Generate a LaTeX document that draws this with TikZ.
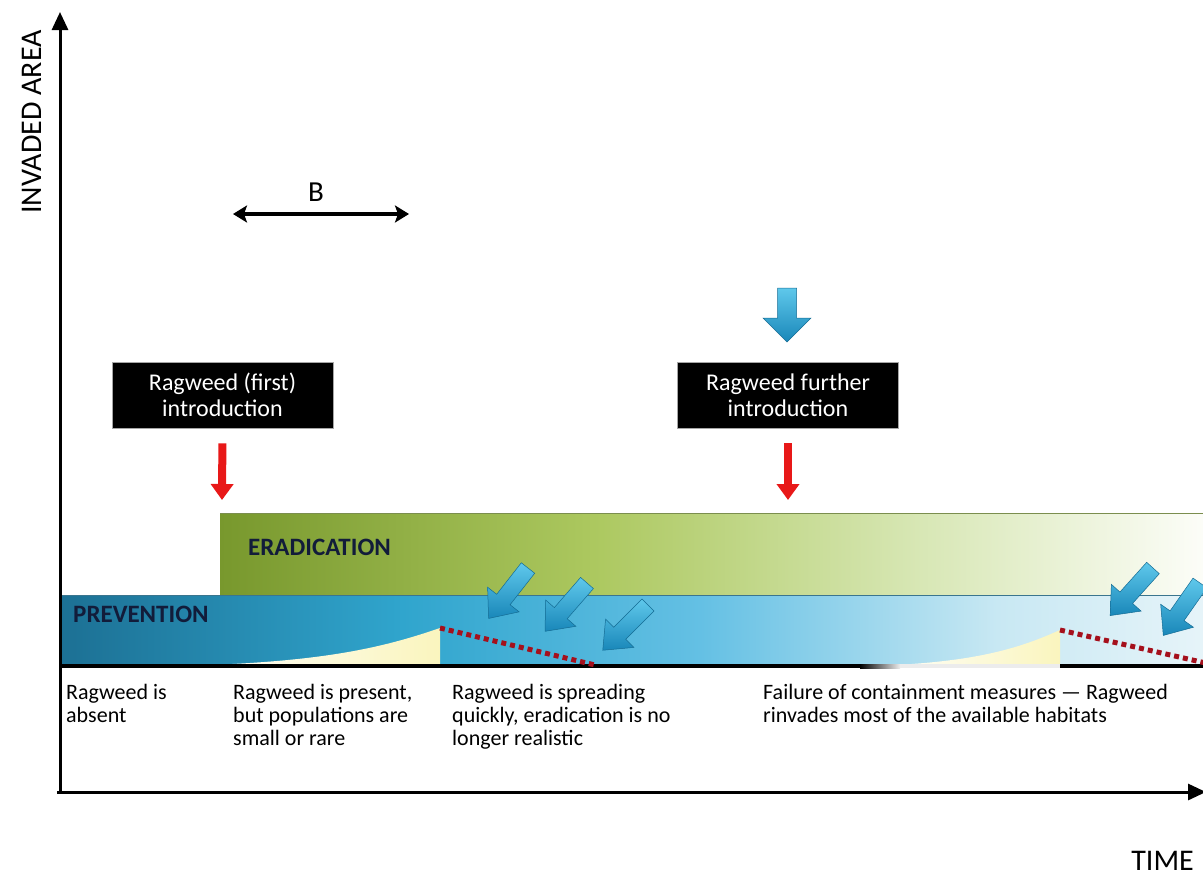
\documentclass[tikz,border=0pt]{standalone}
\usepackage{fontspec}
\setmainfont{Carlito}
\usetikzlibrary{arrows.meta,calc}
\definecolor{erA}{RGB}{120,152,45}
\definecolor{erB}{RGB}{172,200,95}
\definecolor{erC}{RGB}{214,230,178}
\definecolor{erD}{RGB}{252,253,248}
\definecolor{prA}{RGB}{28,112,148}
\definecolor{prB}{RGB}{48,165,205}
\definecolor{prC}{RGB}{100,192,228}
\definecolor{prD}{RGB}{200,232,243}
\definecolor{prE}{RGB}{230,244,249}
\definecolor{bluelt}{RGB}{95,200,235}
\definecolor{bluedk}{RGB}{25,135,185}
\definecolor{redarr}{RGB}{232,24,24}
\definecolor{dotred}{RGB}{165,16,28}
\definecolor{navy}{RGB}{18,28,58}
\definecolor{paleyel}{RGB}{250,245,190}
\pgfdeclarehorizontalshading{eradshade}{100bp}{color(0bp)=(erA); color(25bp)=(erA); color(44bp)=(erB); color(60bp)=(erC); color(75bp)=(erD); color(100bp)=(erD)}
\pgfdeclarehorizontalshading{prevshade}{100bp}{color(0bp)=(prA); color(25bp)=(prA); color(40bp)=(prB); color(53bp)=(prC); color(66bp)=(prD); color(75bp)=(prE); color(100bp)=(prE)}
\tikzset{
  blackbox/.style={fill=black, draw=gray!70, line width=0.8pt, text=white, minimum width=221pt, minimum height=66pt, align=center, inner sep=0pt, font=\fontsize{24}{26}\selectfont},
  redarrow/.style={draw=redarr, line width=8pt, -{Triangle[length=16pt,width=22pt]}},
  lbl/.style={anchor=north west, inner sep=0pt, align=left, font=\fontsize{22}{23}\selectfont},
  bandlbl/.style={anchor=west, inner sep=0pt, text=navy, font=\fontsize{25}{26}\selectfont\bfseries},
  axislbl/.style={inner sep=0pt, font=\fontsize{30}{32}\selectfont},
  dotline/.style={draw=dotred, line width=5pt, dash pattern=on 5pt off 4pt},
  barrow/.pic={\shade[top color=bluelt, bottom color=bluedk, draw=bluedk!80!black, line width=0.5pt] (0,-9.5) -- (30,-9.5) -- (30,-24) -- (54,0) -- (30,24) -- (30,9.5) -- (0,9.5) -- cycle;},
  darrow/.pic={\shade[top color=bluelt, bottom color=bluedk, draw=bluedk!80!black, line width=0.5pt] (0,-8.5) -- (40,-8.5) -- (40,-20) -- (64,0) -- (40,20) -- (40,8.5) -- (0,8.5) -- cycle;}
}
\begin{document}
\begin{tikzpicture}[x=1pt,y=-1pt]
\clip (0,0) rectangle (1203,881);
\fill[white] (0,0) rectangle (1203,881);
% bands
\shade[shading=eradshade] (220,513) rectangle (1203,595);
\draw[color=erA!60!gray, line width=0.8pt] (220,513) -- (1203,513);
\shade[shading=prevshade] (60,595) rectangle (1203,666);
\draw[color=prA!70!gray, line width=0.8pt] (60,595) -- (1203,595);
% curve regions
\shade[left color=white, right color=paleyel] (175,666) .. controls (320,663) and (382,648) .. (440,628) -- (440,666) -- cycle;
\shade[left color=white, right color=paleyel] (870,666) .. controls (975,663) and (1020,648) .. (1060,630) -- (1060,666) -- cycle;
% bottom line
\fill[black] (60,664) rectangle (860,668);
\shade[left color=black, right color=gray!15] (860,664) rectangle (900,668);
\fill[gray!15] (900,664) rectangle (1060,668);
\fill[black] (1060,664) rectangle (1203,668);
% dotted lines
\coordinate (d1s) at (440,628);
\coordinate (d1e) at (595,665);
\coordinate (d2s) at (1060,630);
\coordinate (d2e) at (1210,664);
\draw[dotline] (d1s) -- (d1e);
\draw[dotline] (d2s) -- (d2e);
% band labels
\node[bandlbl] (erad) at (248,547) {ERADICATION};
\node[bandlbl] (prev) at (73,614) {PREVENTION};
% blue diagonal arrows
\pic[rotate=-128] at (528,568) {darrow};
\pic[rotate=-131] at (587,583) {darrow};
\pic[rotate=-135] at (648,605) {darrow};
\pic[rotate=-132] at (1153,568) {darrow};
\pic[rotate=-125] at (1200,583) {darrow};
% blue down arrow
\pic[rotate=-90] at (787,288) {barrow};
% black boxes
\node[blackbox] (intro1) at (222.5,395) {Ragweed (first)\\introduction};
\node[blackbox] (intro2) at (788,395) {Ragweed further\\introduction};
\coordinate (r1e) at (222,500);
\coordinate (r2e) at (788,500);
\draw[redarrow, shorten <=15pt] (intro1.south) -- (r1e);
\draw[redarrow, shorten <=15pt] (intro2.south) -- (r2e);
% B arrow
\node[inner sep=0pt, font=\fontsize{29}{30}\selectfont] (B) at (316,192) {B};
\coordinate (bl) at (233,214);
\coordinate (br) at (409,214);
\draw[line width=4pt, {Stealth[length=14pt,width=17pt,inset=3pt]}-{Stealth[length=14pt,width=17pt,inset=3pt]}] (bl) -- (br);
% axes
\coordinate (origin) at (60,792);
\coordinate (ytop) at (60,12);
\coordinate (xend) at (1206,792);
\draw[line width=3pt, -{Triangle[length=18pt,width=16pt]}] (origin) -- (ytop);
\draw[line width=3pt, -{Triangle[length=18pt,width=16pt]}] (57,792) -- (xend);
\node[axislbl, rotate=90] (ylab) at (32,122) {INVADED AREA};
\node[axislbl, anchor=base east] (xlab) at (1194,870) {TIME};
% stage labels
\node[lbl] (l1) at (66,684) {Ragweed is\\absent};
\node[lbl] (l2) at (233,684) {Ragweed is present,\\but populations are\\small or rare};
\node[lbl] (l3) at (452,684) {Ragweed is spreading\\quickly, eradication is no\\longer realistic};
\node[lbl] (l4) at (763,684) {Failure of containment measures — Ragweed\\rinvades most of the available habitats};
\end{tikzpicture}
\end{document}
